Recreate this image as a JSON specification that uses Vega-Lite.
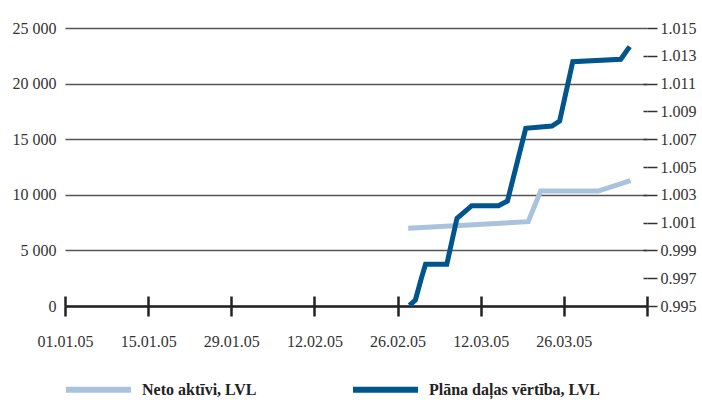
{
  "$schema": "https://vega.github.io/schema/vega-lite/v6.json",
  "width": 582,
  "height": 278,
  "autosize": {"type": "none"},
  "padding": {"left": 65, "top": 28, "right": 55, "bottom": 94},
  "background": "white",
  "config": {"view": {"stroke": null}, "font": "Liberation Serif", "axis": {"labelFont": "Liberation Serif"}},
  "datasets": {
    "neto": [
      {"date": "2005-02-27T19:00:00Z", "value": 6990, "series": "Neto aktīvi, LVL"},
      {"date": "2005-03-20T00:00:00Z", "value": 7580, "series": "Neto aktīvi, LVL"},
      {"date": "2005-03-22T02:00:00Z", "value": 10340, "series": "Neto aktīvi, LVL"},
      {"date": "2005-03-31T19:00:00Z", "value": 10340, "series": "Neto aktīvi, LVL"},
      {"date": "2005-04-06T05:00:00Z", "value": 11270, "series": "Neto aktīvi, LVL"}
    ],
    "plana": [
      {"date": "2005-02-28T00:00:00Z", "value": 0.99505, "series": "Plāna daļas vērtība, LVL"},
      {"date": "2005-03-01T00:00:00Z", "value": 0.99543, "series": "Plāna daļas vērtība, LVL"},
      {"date": "2005-03-02T00:00:00Z", "value": 0.99699, "series": "Plāna daļas vērtība, LVL"},
      {"date": "2005-03-02T17:00:00Z", "value": 0.998, "series": "Plāna daļas vērtība, LVL"},
      {"date": "2005-03-06T07:00:00Z", "value": 0.998, "series": "Plāna daļas vērtība, LVL"},
      {"date": "2005-03-08T00:00:00Z", "value": 1.00131, "series": "Plāna daļas vērtība, LVL"},
      {"date": "2005-03-10T12:00:00Z", "value": 1.00222, "series": "Plāna daļas vērtība, LVL"},
      {"date": "2005-03-15T00:00:00Z", "value": 1.00222, "series": "Plāna daļas vērtība, LVL"},
      {"date": "2005-03-16T12:00:00Z", "value": 1.00255, "series": "Plāna daļas vērtība, LVL"},
      {"date": "2005-03-19T14:00:00Z", "value": 1.00778, "series": "Plāna daļas vērtība, LVL"},
      {"date": "2005-03-24T00:00:00Z", "value": 1.00795, "series": "Plāna daļas vērtība, LVL"},
      {"date": "2005-03-25T07:00:00Z", "value": 1.00831, "series": "Plāna daļas vērtība, LVL"},
      {"date": "2005-03-27T12:00:00Z", "value": 1.01258, "series": "Plāna daļas vērtība, LVL"},
      {"date": "2005-04-04T14:00:00Z", "value": 1.01275, "series": "Plāna daļas vērtība, LVL"},
      {"date": "2005-04-06T02:00:00Z", "value": 1.01366, "series": "Plāna daļas vērtība, LVL"}
    ]
  },
  "layer": [
    {
      "data": {"name": "neto"},
      "mark": {"type": "line", "strokeWidth": 5, "strokeCap": "butt", "strokeJoin": "miter"},
      "encoding": {
        "x": {
          "field": "date", "type": "temporal",
          "scale": {"type": "utc", "domain": [{"year": 2005, "month": 1, "date": 1, "utc": true}, {"year": 2005, "month": 4, "date": 9, "utc": true}]},
          "axis": {
            "orient": "bottom", "title": null, "grid": false,
            "values": [
              {"year": 2005, "month": 1, "date": 1, "utc": true},
              {"year": 2005, "month": 1, "date": 15, "utc": true},
              {"year": 2005, "month": 1, "date": 29, "utc": true},
              {"year": 2005, "month": 2, "date": 12, "utc": true},
              {"year": 2005, "month": 2, "date": 26, "utc": true},
              {"year": 2005, "month": 3, "date": 12, "utc": true},
              {"year": 2005, "month": 3, "date": 26, "utc": true},
              {"year": 2005, "month": 4, "date": 9, "utc": true}
            ],
            "format": "%d.%m.%y",
            "labelExpr": "utcmonth(datum.value) == 3 ? '' : datum.label",
            "labelFont": "Liberation Serif", "labelFontSize": 16, "labelColor": "#333",
            "labelPadding": 17, "labelFlush": false, "labelOverlap": false,
            "tickSize": 10, "tickWidth": 2.5, "tickColor": "#222",
            "domainColor": "#222", "domainWidth": 2.5
          }
        },
        "y": {
          "field": "value", "type": "quantitative",
          "scale": {"domain": [0, 25000], "nice": false, "zero": false},
          "axis": {
            "orient": "left", "title": null,
            "values": [0, 5000, 10000, 15000, 20000, 25000],
            "labelExpr": "replace(format(datum.value, ','), ',', ' ')",
            "grid": true, "gridColor": "#555", "gridWidth": 1.5,
            "domain": false, "ticks": false, "labelPadding": 9,
            "labelFont": "Liberation Serif", "labelFontSize": 16, "labelColor": "#333"
          }
        },
        "color": {
          "field": "series", "type": "nominal",
          "scale": {"domain": ["Neto aktīvi, LVL", "Plāna daļas vērtība, LVL"], "range": ["#a9c3dd", "#00568c"]},
          "legend": {
            "orient": "none", "legendX": -2, "legendY": 326, "direction": "horizontal", "title": null,
            "symbolType": "stroke", "symbolSize": 4225, "symbolStrokeWidth": 6,
            "labelFont": "Liberation Serif", "labelFontSize": 16, "labelFontWeight": "bold", "labelColor": "#222",
            "labelOffset": 8, "columnPadding": 84, "labelLimit": 300
          }
        }
      }
    },
    {
      "data": {"name": "plana"},
      "mark": {"type": "line", "strokeWidth": 5, "strokeCap": "butt", "strokeJoin": "miter"},
      "encoding": {
        "x": {
          "field": "date", "type": "temporal",
          "scale": {"type": "utc", "domain": [{"year": 2005, "month": 1, "date": 1, "utc": true}, {"year": 2005, "month": 4, "date": 9, "utc": true}]},
          "axis": null
        },
        "y": {
          "field": "value", "type": "quantitative",
          "scale": {"domain": [0.995, 1.015], "nice": false, "zero": false},
          "axis": {
            "orient": "right", "title": null,
            "values": [0.995, 0.997, 0.999, 1.001, 1.003, 1.005, 1.007, 1.009, 1.011, 1.013, 1.015],
            "format": ".3f", "grid": false,
            "tickSize": 10, "tickWidth": 1.5, "tickColor": "#333",
            "domain": false, "labelPadding": 3,
            "labelFont": "Liberation Serif", "labelFontSize": 16, "labelColor": "#333"
          }
        },
        "color": {
          "field": "series", "type": "nominal",
          "scale": {"domain": ["Neto aktīvi, LVL", "Plāna daļas vērtība, LVL"], "range": ["#a9c3dd", "#00568c"]},
          "legend": {
            "orient": "none", "legendX": -2, "legendY": 326, "direction": "horizontal", "title": null,
            "symbolType": "stroke", "symbolSize": 4225, "symbolStrokeWidth": 6,
            "labelFont": "Liberation Serif", "labelFontSize": 16, "labelFontWeight": "bold", "labelColor": "#222",
            "labelOffset": 8, "columnPadding": 84, "labelLimit": 300
          }
        }
      }
    },
    {
      "data": {"name": "plana"},
      "mark": {"type": "line", "opacity": 0},
      "encoding": {
        "x": {
          "field": "date", "type": "temporal",
          "scale": {"type": "utc", "domain": [{"year": 2005, "month": 1, "date": 1, "utc": true}, {"year": 2005, "month": 4, "date": 9, "utc": true}]},
          "axis": {
            "orient": "top", "offset": -278, "title": null, "labels": false, "domain": false, "grid": false,
            "values": [
              {"year": 2005, "month": 1, "date": 1, "utc": true},
              {"year": 2005, "month": 1, "date": 15, "utc": true},
              {"year": 2005, "month": 1, "date": 29, "utc": true},
              {"year": 2005, "month": 2, "date": 12, "utc": true},
              {"year": 2005, "month": 2, "date": 26, "utc": true},
              {"year": 2005, "month": 3, "date": 12, "utc": true},
              {"year": 2005, "month": 3, "date": 26, "utc": true},
              {"year": 2005, "month": 4, "date": 9, "utc": true}
            ],
            "tickSize": 10, "tickWidth": 2.5, "tickColor": "#222"
          }
        },
        "y": {
          "field": "value", "type": "quantitative",
          "scale": {"domain": [0.995, 1.015], "nice": false, "zero": false},
          "axis": {
            "orient": "left", "offset": -582, "title": null, "labels": false, "domain": false, "grid": false,
            "values": [0.997, 0.999, 1.001, 1.003, 1.005, 1.007, 1.009, 1.011, 1.013],
            "tickSize": 4, "tickWidth": 1.5, "tickColor": "#333"
          }
        }
      }
    },
    {
      "mark": {"type": "rule", "strokeWidth": 1.5, "color": "#333"},
      "encoding": {
        "x": {
          "datum": {"year": 2005, "month": 4, "date": 9, "utc": true}, "type": "temporal",
          "scale": {"type": "utc", "domain": [{"year": 2005, "month": 1, "date": 1, "utc": true}, {"year": 2005, "month": 4, "date": 9, "utc": true}]},
          "axis": null
        },
        "y": {
          "datum": 1.01644, "type": "quantitative",
          "scale": {"domain": [0.995, 1.015], "nice": false, "zero": false},
          "axis": null
        },
        "y2": {"datum": 0.99428}
      }
    }
  ],
  "resolve": {
    "scale": {"x": "independent", "y": "independent"},
    "axis": {"x": "independent", "y": "independent"}
  }
}
